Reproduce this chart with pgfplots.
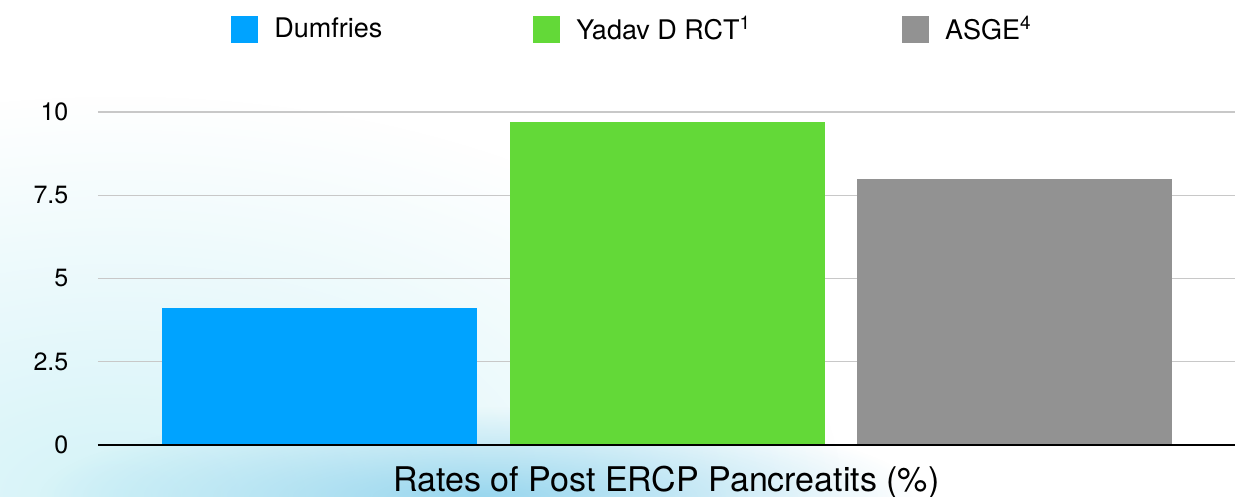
\documentclass[border=0pt]{standalone}
\usepackage{pgfplots}
\pgfplotsset{compat=1.18}
\usepackage{fontspec}
\setmainfont{TeX Gyre Heros}
\usetikzlibrary{fadings}
\definecolor{cblue}{RGB}{0,163,255}
\definecolor{cgreen}{RGB}{99,217,56}
\definecolor{cgray}{RGB}{146,146,146}
\definecolor{bgcyan}{RGB}{212,243,248}
\definecolor{bgblue}{RGB}{138,208,236}
\definecolor{gridc}{RGB}{200,200,200}
\tikzfading[name=softblob, inner color=transparent!0, outer color=transparent!100]
\begin{document}
\begin{tikzpicture}
\useasboundingbox (0,0) rectangle (621.5pt,248.5pt);
\begin{scope}
\clip (0,0) rectangle (621.5pt,248.5pt);
\fill[white] (0,0) rectangle (621.5pt,248.5pt);
\fill[bgcyan, path fading=softblob, fit fading=true] (-300pt,-200pt) rectangle (420pt,200pt);
\fill[bgblue, opacity=0.85, path fading=softblob, fit fading=true] (20pt,-45pt) rectangle (460pt,45pt);
\end{scope}
\begin{axis}[
  at={(49pt,26pt)}, anchor=south west, scale only axis,
  width=568.5pt, height=166.5pt,
  xmin=0.3626, xmax=3.633, ymin=0, ymax=10,
  ybar, bar width=0.906, bar shift=0pt,
  clip=false,
  axis line style={draw=none},
  xtick=\empty,
  ytick={0,2.5,5,7.5,10}, yticklabels={0,2.5,5,7.5,10},
  major tick length=0pt,
  yticklabel style={font=\fontsize{12.5}{15}\selectfont, xshift=-11.3pt},
  ymajorgrids, grid style={gridc, line width=0.6pt},
  legend columns=3,
  legend style={draw=none, fill=none, at={(0.471,1.249)}, anchor=center,
    font=\fontsize{13.5}{16}\selectfont,
    /tikz/every odd column/.append style={column sep=6pt},
    /tikz/every even column/.append style={column sep=73.5pt},
    /tikz/column 4/.append style={column sep=66pt}},
  legend image code/.code={\fill[#1] (0pt,-6.75pt) rectangle (13.5pt,6.75pt);},
  xlabel={Rates of Post ERCP Pancreatits (\%)},
  xlabel style={font=\fontsize{17}{20}\selectfont, at={(axis description cs:0.5,0)}, anchor=base, yshift=-23.5pt},
]
\addplot[fill=cblue, draw=none] coordinates {(1,4.1)};
\addplot[fill=cgreen, draw=none] coordinates {(2,9.7)};
\addplot[fill=cgray, draw=none] coordinates {(3,8.0)};
\legend{Dumfries, Yadav D RCT\textsuperscript{1}, ASGE\textsuperscript{4}}
\draw[black, line width=1.2pt] (rel axis cs:0,0) -- (rel axis cs:1,0);
\end{axis}
\end{tikzpicture}
\end{document}
